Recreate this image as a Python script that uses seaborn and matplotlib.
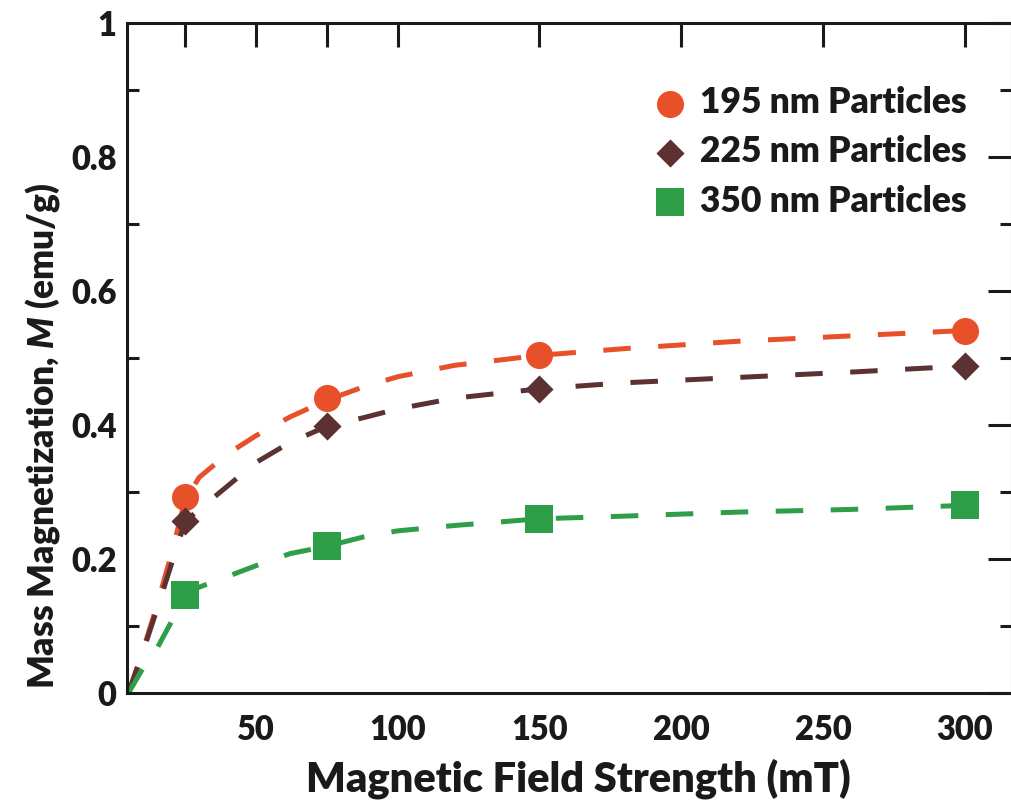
import matplotlib
matplotlib.use("Agg")
import matplotlib.pyplot as plt
import seaborn as sns
import numpy as np

# ---- data ----
field_mT = [25, 75, 150, 300]
m_195 = [0.292, 0.440, 0.504, 0.541]
m_225 = [0.256, 0.398, 0.454, 0.488]
m_350 = [0.146, 0.219, 0.260, 0.280]

# dashed fit curves
fit_x = [5, 10, 15, 20, 25, 30, 40, 50, 62, 75, 88, 100, 120, 150, 180, 220, 260, 300]
fit_195 = [0.0, 0.062, 0.130, 0.205, 0.288, 0.322, 0.357, 0.384, 0.412, 0.437, 0.457, 0.472, 0.489, 0.504, 0.514, 0.525, 0.533, 0.541]
fit_225 = [0.0, 0.060, 0.124, 0.190, 0.256, 0.274, 0.309, 0.344, 0.374, 0.398, 0.411, 0.424, 0.440, 0.454, 0.463, 0.471, 0.479, 0.488]
fit_350 = [0.0, 0.036, 0.066, 0.105, 0.146, 0.158, 0.174, 0.190, 0.208, 0.219, 0.233, 0.242, 0.250, 0.260, 0.264, 0.270, 0.274, 0.280]

labels = ["195 nm Particles", "225 nm Particles", "350 nm Particles"]
colors = ["#E8502A", "#5B3131", "#2E9E48"]

x_ticks = [25, 50, 75, 100, 150, 200, 250, 300]
x_ticklabels = ["", "50", "", "100", "150", "200", "250", "300"]
y_ticks = [0, 0.2, 0.4, 0.6, 0.8, 1.0]
y_ticklabels = ["0", "0.2", "0.4", "0.6", "0.8", "1"]

sns.set_style("white")
W = "heavy"
plt.rcParams["font.family"] = ["Lato", "DejaVu Sans"]
plt.rcParams["font.weight"] = W
plt.rcParams["mathtext.fontset"] = "custom"
plt.rcParams["mathtext.it"] = "Lato:italic:heavy"
plt.rcParams["mathtext.rm"] = "Lato:heavy"
plt.rcParams["mathtext.bf"] = "Lato:heavy"

fig = plt.figure(figsize=(10.11, 8.01), dpi=100)
ax = fig.add_axes([127 / 1011, 1 - 693 / 801, (1012 - 127) / 1011, (693 - 23) / 801])

fits = [fit_195, fit_225, fit_350]
pts = [m_195, m_225, m_350]
markers = ["o", "D", "s"]
sizes = [380, 205, 400]

for fy, c in zip(fits, colors):
    sns.lineplot(x=fit_x, y=fy, color=c, linewidth=3.6, linestyle=(0, (5.5, 5.5)),
                 ax=ax, legend=False, estimator=None, sort=False, zorder=2)

for py, c, mk, s, lab in zip(pts, colors, markers, sizes, labels):
    sns.scatterplot(x=field_mT, y=py, color=c, marker=mk, s=s, linewidth=0,
                    ax=ax, label=lab, zorder=3)

ax.set_xlim(4.5, 316.7)
ax.set_ylim(0, 1)
ax.set_xticks(x_ticks)
ax.set_xticklabels(x_ticklabels)
ax.set_yticks(y_ticks)
ax.set_yticklabels(y_ticklabels)
ax.set_yticks(np.arange(0.1, 1.0, 0.2), minor=True)

for sp in ax.spines.values():
    sp.set_visible(True)
    sp.set_linewidth(2.2)
    sp.set_color("#1a1a1a")

ax.tick_params(axis="both", which="major", direction="in", length=17, width=2.2,
               top=True, right=True, labelsize=23.5, color="#1a1a1a")
ax.tick_params(axis="x", which="major", pad=15)
ax.tick_params(axis="y", which="major", pad=7.5)
ax.tick_params(axis="y", which="minor", direction="in", length=8.5, width=2.2,
               right=True, left=True, color="#1a1a1a")
for t in ax.get_xticklabels() + ax.get_yticklabels():
    t.set_fontweight(W)
    t.set_color("#1a1a1a")

ax.set_xlabel("Magnetic Field Strength (mT)", fontsize=30, fontweight=W,
              color="#1a1a1a")
ax.xaxis.set_label_coords((578 - 127) / 885, (693 - 758) / 670)
ax.set_ylabel("Mass Magnetization, $\\mathit{M}$ (emu/g)", fontsize=25.5, fontweight=W,
              color="#1a1a1a")
ax.yaxis.set_label_coords((62 - 127) / 885, (693 - 436) / 670)

leg = ax.legend(loc="upper left", bbox_to_anchor=(652.5 / 1011, 1 - 86 / 801),
                bbox_transform=fig.transFigure, frameon=False,
                prop={"family": "Lato", "weight": W, "size": 25.5},
                handlelength=1.0, handletextpad=0.33, labelspacing=0.46,
                borderpad=0, borderaxespad=0, scatterpoints=1)
for t in leg.get_texts():
    t.set_color("#1a1a1a")

fig.savefig("out.png", dpi=100)
